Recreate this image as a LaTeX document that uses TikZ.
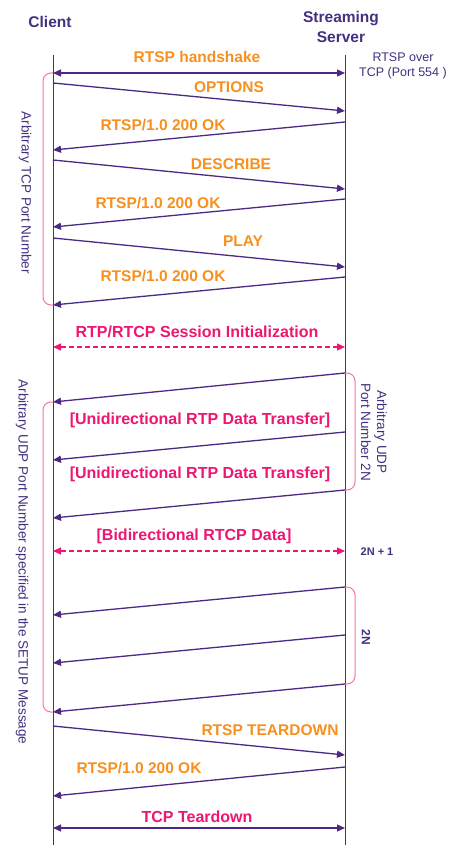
\documentclass[tikz,border=0pt]{standalone}
\usepackage{fontspec}
\setmainfont{Liberation Sans}
\usetikzlibrary{arrows.meta}
\definecolor{lpurple}{HTML}{4B2A86}
\definecolor{tpurple}{HTML}{45307F}
\definecolor{lorange}{HTML}{F7901E}
\definecolor{lpink}{HTML}{EE1670}
\definecolor{bpink}{HTML}{FF6F9F}
\tikzset{
  x=1pt,y=-1pt,
  life/.style={lpurple,line width=1pt},
  msg/.style={lpurple,line width=1.3pt,-{Triangle[length=8pt,width=7pt]}},
  both/.style={lpurple,line width=1.3pt,{Triangle[length=8pt,width=7pt]}-{Triangle[length=8pt,width=7pt]}},
  dboth/.style={lpink,line width=1.1pt,dash pattern=on 5pt off 3pt,{Triangle[length=8pt,width=7pt]}-{Triangle[length=8pt,width=7pt]}},
  olab/.style={lorange,font=\fontsize{15.5}{16}\selectfont\bfseries,inner sep=0pt},
  plab/.style={lpink,font=\fontsize{16}{17}\selectfont\bfseries,inner sep=0pt},
  head/.style={tpurple,font=\fontsize{15.5}{20}\selectfont\bfseries,inner sep=0pt,align=center},
  side/.style={tpurple,font=\fontsize{13.5}{15}\selectfont,inner sep=0pt,align=center},
  brace/.style={bpink,line width=1pt,rounded corners=8pt},
}
\begin{document}
\begin{tikzpicture}
\fill[white] (0,0) rectangle (453,845);
\useasboundingbox (0,0) rectangle (453,845);
% headers
\node[head] (client) at (50,22) {Client};
\node[head] (server) at (341,27) {Streaming\\Server};
% lifelines
\coordinate (ctop) at (53,55);
\coordinate (cbot) at (53,845);
\coordinate (stop) at (345,55);
\coordinate (sbot) at (345,845);
\draw[life] (ctop) -- (cbot);
\draw[life] (stop) -- (sbot);
% endpoints
\foreach \n/\y in {h/73,a1/83,b1/150,a2/160,b2/227,a3/238,b3/305,r/347,d1/402,d2/460,d3/518,q/551,d4/615,d5/663,d6/712,t1/726,t2/796,tt/828}
  \coordinate (c\n) at (53,\y);
\foreach \n/\y in {h/73,a1/111,b1/122,a2/189,b2/199,a3/267,b3/277,r/347,d1/373,d2/432,d3/490,q/551,d4/587,d5/635,d6/684,t1/755,t2/767,tt/828}
  \coordinate (s\n) at (345,\y);
% messages
\draw[both] (ch) -- (sh);
\node[olab] (lh) at (197,57) {RTSP handshake};
\draw[msg] (ca1) -- (sa1);
\node[olab] (l1) at (229,87) {OPTIONS};
\draw[msg] (sb1) -- (cb1);
\node[olab] (l2) at (163,125) {RTSP/1.0 200 OK};
\draw[msg] (ca2) -- (sa2);
\node[olab] (l3) at (231,164) {DESCRIBE};
\draw[msg] (sb2) -- (cb2);
\node[olab] (l4) at (158,203) {RTSP/1.0 200 OK};
\draw[msg] (ca3) -- (sa3);
\node[olab] (l5) at (243,241) {PLAY};
\draw[msg] (sb3) -- (cb3);
\node[olab] (l6) at (163,276) {RTSP/1.0 200 OK};
\draw[dboth] (cr) -- (sr);
\node[plab] (lr) at (197,332) {RTP/RTCP Session Initialization};
\draw[msg] (sd1) -- (cd1);
\node[plab] (lu1) at (200,420) {[Unidirectional RTP Data Transfer]};
\draw[msg] (sd2) -- (cd2);
\node[plab] (lu2) at (200,474) {[Unidirectional RTP Data Transfer]};
\draw[msg] (sd3) -- (cd3);
\node[plab] (lb) at (194,536) {[Bidirectional RTCP Data]};
\draw[dboth] (cq) -- (sq);
\draw[msg] (sd4) -- (cd4);
\draw[msg] (sd5) -- (cd5);
\draw[msg] (sd6) -- (cd6);
\draw[msg] (ct1) -- (st1);
\node[olab] (lt1) at (270,730) {RTSP TEARDOWN};
\draw[msg] (st2) -- (ct2);
\node[olab] (lt2) at (139,768) {RTSP/1.0 200 OK};
\draw[both] (ctt) -- (stt);
\node[plab] (ltt) at (197,817) {TCP Teardown};
% side notes
\node[side,font=\fontsize{12.5}{15}\selectfont] (over) at (403,66) {RTSP over\\TCP (Port 554 )};
\node[side,font=\fontsize{11}{12}\selectfont\bfseries] (n21) at (377,552) {2N + 1};
% braces
\draw[brace] (ch) -| (43,305) -- (cb3);
\node[side,rotate=-90] (tcpl) at (25,193) {Arbitrary TCP Port Number};
\draw[brace] (cd1) -| (43,712) -- (cd6);
\node[side,rotate=-90] (udpl) at (22,562) {Arbitrary UDP Port Number specified in the SETUP Message};
\draw[brace] (sd1) -| (355,490) -- (sd3);
\node[side,rotate=-90,font=\fontsize{13.5}{16}\selectfont] (udpr) at (374,432) {Arbitrary UDP\\Port Number 2N};
\draw[brace] (sd4) -| (355,684) -- (sd6);
\node[side,rotate=-90,font=\fontsize{12}{14}\selectfont\bfseries] (n2) at (366,637) {2N};
\end{tikzpicture}
\end{document}
